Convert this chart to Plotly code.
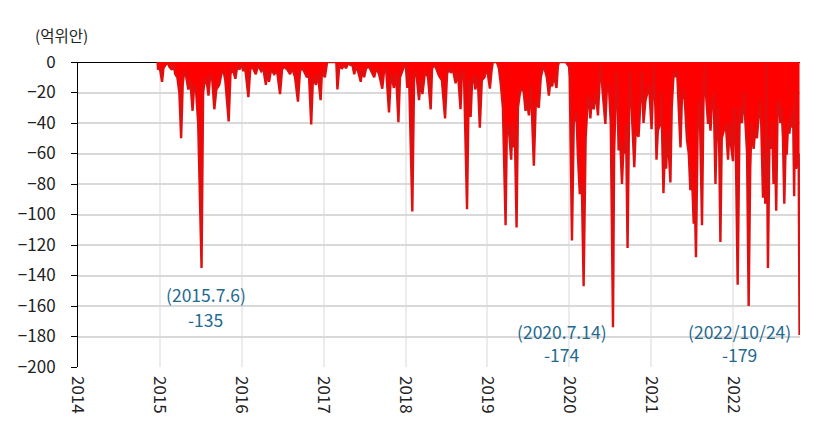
import plotly.graph_objects as go

# ---- data ----
dates = [
    "2014-12-22", "2014-12-24", "2014-12-31",
    "2015-01-11", "2015-01-17", "2015-01-26", "2015-02-04", "2015-02-12", "2015-02-24", "2015-03-02",
    "2015-03-11", "2015-03-20", "2015-03-29", "2015-04-06", "2015-04-13", "2015-04-20", "2015-04-29",
    "2015-05-08", "2015-05-17", "2015-05-27", "2015-06-03", "2015-06-12", "2015-06-21", "2015-07-06",
    "2015-07-13", "2015-07-22", "2015-07-31", "2015-08-06", "2015-08-14", "2015-08-23", "2015-09-01",
    "2015-09-10", "2015-09-23", "2015-10-02", "2015-10-11", "2015-10-20", "2015-11-04", "2015-11-12",
    "2015-11-21", "2015-12-04", "2015-12-13", "2015-12-22", "2015-12-31",
    "2016-01-08", "2016-01-16", "2016-01-31", "2016-02-08", "2016-02-17", "2016-03-04", "2016-03-14",
    "2016-03-28", "2016-04-06", "2016-04-18", "2016-04-23", "2016-05-02", "2016-05-11", "2016-05-25",
    "2016-06-07", "2016-06-20", "2016-06-29", "2016-07-08", "2016-07-23", "2016-08-04", "2016-08-13",
    "2016-08-26", "2016-09-08", "2016-09-17", "2016-09-26", "2016-10-05", "2016-10-18", "2016-10-27",
    "2016-11-06", "2016-11-14", "2016-11-27", "2016-12-06", "2016-12-18", "2016-12-24",
    "2017-01-06", "2017-01-12", "2017-01-16", "2017-02-26", "2017-03-03", "2017-03-11", "2017-03-24",
    "2017-04-02", "2017-04-10", "2017-04-20", "2017-05-02", "2017-05-08", "2017-05-17", "2017-05-25",
    "2017-06-03", "2017-06-15", "2017-06-21", "2017-06-30", "2017-07-09", "2017-07-22", "2017-07-31",
    "2017-08-14", "2017-08-23", "2017-09-05", "2017-09-19", "2017-09-27", "2017-10-06", "2017-10-19",
    "2017-10-28", "2017-11-10", "2017-11-19", "2017-11-30", "2017-12-07", "2017-12-16", "2017-12-25",
    "2018-01-01", "2018-01-09", "2018-01-16", "2018-01-31", "2018-02-08", "2018-02-17", "2018-03-02",
    "2018-03-09", "2018-03-17", "2018-03-29", "2018-04-11", "2018-04-23", "2018-04-29", "2018-05-12",
    "2018-05-21", "2018-05-30", "2018-06-12", "2018-06-26", "2018-07-05", "2018-07-13", "2018-07-21",
    "2018-07-31", "2018-08-12", "2018-08-22", "2018-09-03", "2018-09-09", "2018-09-18", "2018-10-02",
    "2018-10-10", "2018-10-18", "2018-10-24", "2018-11-01", "2018-11-08", "2018-11-19", "2018-11-28",
    "2018-12-07", "2018-12-19", "2018-12-25",
    "2019-01-03", "2019-01-12", "2019-01-19", "2019-01-22", "2019-01-25", "2019-02-12", "2019-02-21",
    "2019-03-02", "2019-03-11", "2019-03-23", "2019-03-29", "2019-04-07", "2019-04-17", "2019-04-22",
    "2019-04-29", "2019-05-03", "2019-05-11", "2019-05-17", "2019-05-26", "2019-06-05", "2019-06-12",
    "2019-06-20", "2019-06-26", "2019-07-05", "2019-07-14", "2019-07-27", "2019-08-05", "2019-08-18",
    "2019-08-27", "2019-09-07", "2019-09-14", "2019-09-23", "2019-10-02", "2019-10-09", "2019-10-17",
    "2019-10-24", "2019-11-05", "2019-11-11", "2019-11-16", "2019-12-17", "2019-12-26", "2019-12-31",
    "2020-01-03", "2020-01-13", "2020-01-21", "2020-02-02", "2020-02-08", "2020-02-17", "2020-02-26",
    "2020-03-05", "2020-03-14", "2020-03-25", "2020-03-30", "2020-04-04", "2020-04-10", "2020-04-19",
    "2020-04-28", "2020-05-08", "2020-05-16", "2020-05-21", "2020-05-29", "2020-06-10", "2020-06-16",
    "2020-06-25", "2020-07-04", "2020-07-14", "2020-07-19", "2020-07-29", "2020-08-04", "2020-08-08",
    "2020-08-15", "2020-08-23", "2020-08-30", "2020-09-04", "2020-09-10", "2020-09-17", "2020-09-24",
    "2020-09-29", "2020-10-05", "2020-10-17", "2020-10-23", "2020-11-05", "2020-11-12", "2020-11-20",
    "2020-11-27", "2020-12-06", "2020-12-15", "2020-12-22",
    "2021-01-02", "2021-01-08", "2021-01-12", "2021-01-19", "2021-01-24", "2021-01-30", "2021-02-11",
    "2021-02-14", "2021-02-24", "2021-03-04", "2021-03-08", "2021-03-15", "2021-03-27", "2021-04-02",
    "2021-04-11", "2021-04-18", "2021-04-26", "2021-05-03", "2021-05-11", "2021-05-17", "2021-05-26",
    "2021-06-01", "2021-06-09", "2021-06-17", "2021-06-24", "2021-06-30", "2021-07-09", "2021-07-14",
    "2021-07-19", "2021-07-27", "2021-08-04", "2021-08-09", "2021-08-15", "2021-08-21", "2021-08-26",
    "2021-09-01", "2021-09-11", "2021-09-16", "2021-09-22", "2021-09-27", "2021-10-06", "2021-10-14",
    "2021-10-20", "2021-10-25", "2021-10-31", "2021-11-05", "2021-11-11", "2021-11-20", "2021-11-29",
    "2021-12-09", "2021-12-17", "2021-12-23", "2021-12-31",
    "2022-01-05", "2022-01-11", "2022-01-21", "2022-01-30", "2022-02-09", "2022-02-17", "2022-02-24",
    "2022-03-04", "2022-03-11", "2022-03-18", "2022-03-24", "2022-04-02", "2022-04-09", "2022-04-17",
    "2022-04-22", "2022-04-29", "2022-05-06", "2022-05-14", "2022-05-19", "2022-05-24", "2022-05-29",
    "2022-06-01", "2022-06-05", "2022-06-12", "2022-06-18", "2022-06-24", "2022-06-30", "2022-07-07",
    "2022-07-12", "2022-07-18", "2022-07-25", "2022-07-30", "2022-08-05", "2022-08-11", "2022-08-17",
    "2022-08-22", "2022-08-28", "2022-09-03", "2022-09-09", "2022-09-14", "2022-09-20", "2022-09-25",
    "2022-09-30", "2022-10-04", "2022-10-08", "2022-10-20", "2022-10-24",
]

flows = [
    0, -5, -3,
    -13, -4, -2, 0, -3, -5, -1,
    -8, -10, -20, -50, -15, -5, -10,
    -18, -12, -32, -15, -20, -40, -135,
    -20, -10, -15, -22, -8, -12, -31,
    -18, -15, -8, -5, -12, -39, -8,
    -4, -11, -2, -5, -1,
    -6, -3, -23, -5, -3, -8, -2,
    -6, -4, -15, -6, -13, -5, -8,
    -6, -21, -5, -3, -5, -8, -4,
    -10, -26, -6, -4, -6, -10, -8,
    -41, -10, -15, -8, -25, -6,
    -10, -2, 0, 0, -18, -3, -4,
    -2, -4, -1, -2, -1, -8, -3,
    -6, -13, -5, -10, -4, -3, -6,
    -10, -4, -8, -17.5, -6, -4, -33,
    -8, -17, -6, -39.5, -10, -6, -3,
    0, -17, -6, -98, -10, -6, -25,
    -12, -21, -6, -10, -31, -4, -2,
    -5, -9, -12, -37, -8, -4, -7,
    -5, -14, -6, -31, -8, -5, -96.5,
    -12, -36, -15, -8, -18, -10, -43,
    -12, -10, -5,
    -8, -17.5, -6, -3, 0, 0, -4,
    -15, -30, -107, -40, -45, -64, -40,
    -56, -45, -108.5, -30, -20, -16.5, -20,
    -32, -25, -35, -15, -68, -25, -30,
    -10, -3, -5, -10, -22, -12, -16,
    -8, -17, -3, 0, 0, -2, -3,
    -10, -117, -40, -33, -60, -86.6, -80,
    -147, -50, -21, -25, -37, -25, -31,
    -20, -35, -10, -2, -20, -40.6, -20,
    -14, -40, -174, -60, -6, -30, -58,
    -50, -80, -55, -60, -40, -122, -30,
    -6, -30, -69, -45, -49, -30, -6,
    -40, -25, -20, -15,
    -44, -10, -2, -30, -64, -45, -40,
    -20, -86, -50, -70, -45, -79, -30,
    -6, -10, -6, -30, -56, -25, -18,
    -30, -51, -60, -84, -70, -106, -90,
    -128, -40, -25, -60, -107, -30, -2,
    -20, -40.6, -35, -45, -30, -20, -80,
    -40, -30, -60, -118, -50, -45, -40,
    -64, -40, -55, -65,
    -30, -38, -146, -30, -40, -20, -38,
    -60, -160, -70, -40, -57, -45, -50,
    -40, -25, -40, -89, -60, -93, -1,
    -40, -135, -50, -57, -40, -80, -60,
    -97.5, -30, -25, -40, -30, -50, -93,
    -60, -60, -40, -47, -35, -43, -30,
    -88, -20, -70, -60, -179,
]

year_ticks = ["2014-01-01", "2015-01-01", "2016-01-01", "2017-01-01", "2018-01-01",
              "2019-01-01", "2020-01-01", "2021-01-01", "2022-01-01"]
year_labels = ["2014", "2015", "2016", "2017", "2018", "2019", "2020", "2021", "2022"]
y_ticks = [0, -20, -40, -60, -80, -100, -120, -140, -160, -180, -200]

# callouts
callout_x = ["2015-07-25", "2019-11-29", "2022-01-29"]
callout_date_text = ["(2015.7.6)", "(2020.7.14)", "(2022/10/24)"]
callout_date_y = [-152.5, -176.5, -176.5]
callout_value_text = ["-135", "-174", "-179"]
callout_value_y = [-169, -191.5, -191.5]

unit_label = "(억위안)"

FONT = "Noto Sans CJK KR"
ANN_COLOR = "#236a8e"
TXT = "#222222"

# page body has an 8px margin: figure is sized to fit the window
W, H = 823, 437
ML, MR, MT, MB = 70, 31, 54, 78

fig = go.Figure()
fig.add_trace(go.Scatter(
    x=dates, y=flows, mode="lines",
    line=dict(color="#e01010", width=2.4),
    fill="tozeroy", fillcolor="#ff0000",
    hoverinfo="x+y", showlegend=False,
))

for xv, t, yv in zip(callout_x, callout_date_text, callout_date_y):
    fig.add_annotation(x=xv, y=yv, xref="x", yref="y", text=t, showarrow=False,
                       font=dict(family=FONT, size=17.5, color=ANN_COLOR))
for xv, t, yv in zip(callout_x, callout_value_text, callout_value_y):
    fig.add_annotation(x=xv, y=yv, xref="x", yref="y", text=t, showarrow=False,
                       font=dict(family=FONT, size=17.5, color=ANN_COLOR))

pw, ph = W - ML - MR, H - MT - MB
fig.add_annotation(x=(25 - ML) / pw, y=(H - MB - 27) / ph, xref="paper", yref="paper",
                   text=unit_label, showarrow=False, xanchor="left", yanchor="middle",
                   font=dict(family=FONT, size=15.5, color=TXT))

fig.update_layout(
    width=W, height=H,
    margin=dict(l=ML, r=MR, t=MT, b=MB, autoexpand=False),
    paper_bgcolor="white", plot_bgcolor="white",
    font=dict(family=FONT, size=15, color=TXT),
    showlegend=False,
)

fig.update_xaxes(
    range=["2014-01-01", "2022-10-26"],
    tickmode="array", tickvals=year_ticks, ticktext=year_labels,
    tickangle=90, showgrid=True, gridcolor="#ececec", gridwidth=1.5,
    showline=False, zeroline=False, ticks="",
    tickfont=dict(family=FONT, size=17, color=TXT),
    ticklabelstandoff=8,
)
fig.update_yaxes(
    range=[-200, 0], tickmode="array", tickvals=y_ticks,
    showgrid=True, gridcolor="#d9d9d9", gridwidth=1.8,
    showline=True, linecolor="black", linewidth=1,
    ticks="outside", ticklen=6, tickcolor="black",
    zeroline=True, zerolinecolor="black", zerolinewidth=1.2,
    tickfont=dict(family=FONT, size=17, color=TXT),
    ticklabelstandoff=12,
)

fig.write_html("out.html")
